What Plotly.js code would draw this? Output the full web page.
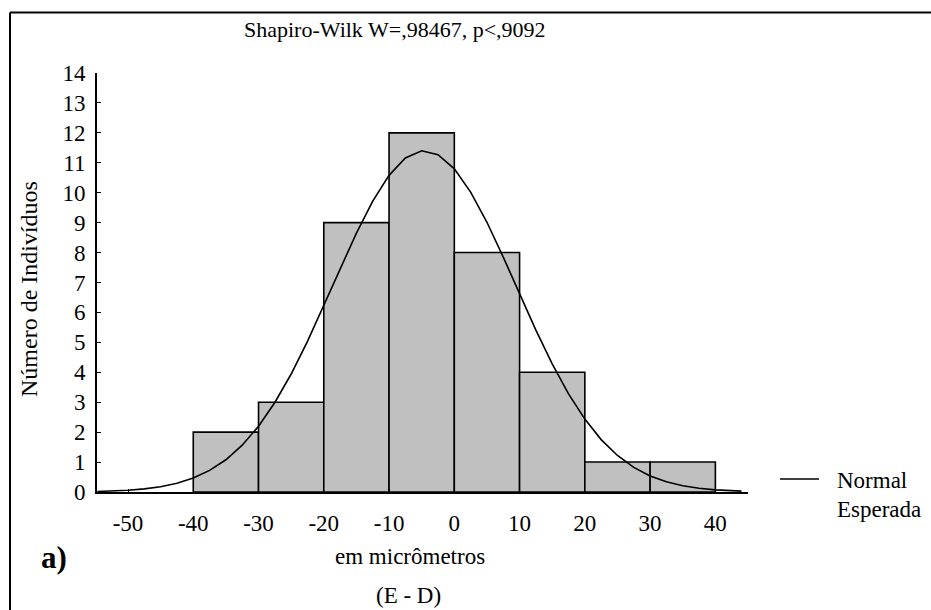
<!DOCTYPE html>
<html>
<head>
<meta charset="utf-8">
<script src="https://cdn.plot.ly/plotly-3.0.1.min.js"></script>
<style>html,body{margin:0;padding:0;background:#fff;}#chart{width:931px;height:610px;}</style>
</head>
<body>
<div id="chart"></div>
<script>
// Histogram bins (centers, width 10) and counts
var binCenters = [-35, -25, -15, -5, 5, 15, 25, 35];
var counts = [2, 3, 9, 12, 8, 4, 1, 1];

// Expected normal curve
var curveX = [-54.7, -52.5, -50, -47.5, -45, -42.5, -40, -37.5, -35, -32.5, -30, -27.5, -25, -22.5, -20, -17.5, -15, -12.5, -10, -7.5, -5, -2.5, 0, 2.5, 5, 7.5, 10, 12.5, 15, 17.5, 20, 22.5, 25, 27.5, 30, 32.5, 35, 37.5, 40, 42.5, 44];
var curveY = [0.018, 0.033, 0.059, 0.104, 0.177, 0.292, 0.466, 0.721, 1.078, 1.565, 2.199, 2.992, 3.942, 5.034, 6.224, 7.457, 8.650, 9.722, 10.58, 11.16, 11.40, 11.27, 10.80, 10.02, 9.012, 7.847, 6.618, 5.407, 4.279, 3.280, 2.435, 1.751, 1.220, 0.823, 0.538, 0.341, 0.209, 0.124, 0.071, 0.040, 0.028];

var xTicks = [-50, -40, -30, -20, -10, 0, 10, 20, 30, 40];
var yTicks = [0, 1, 2, 3, 4, 5, 6, 7, 8, 9, 10, 11, 12, 13, 14];

var titleText = 'Shapiro-Wilk W=,98467, p<,9092';
var yTitle = 'Número de Indivíduos';
var xTitle1 = 'em micrômetros';
var xTitle2 = '(E - D)';
var legendText1 = 'Normal';
var legendText2 = 'Esperada';
var panelLabel = 'a)';

var FONT = '"Liberation Serif", "Times New Roman", Times, serif';

// pixel -> paper helpers (plot area: x 97..748, y 73..492)
var L = 97, R = 748, T = 73, B = 492;
function px(x) { return (x - L) / (R - L); }
function py(y) { return (B - y) / (B - T); }

var traces = [
  {
    type: 'bar',
    x: binCenters,
    y: counts,
    width: 10,
    marker: { color: '#c0c0c0', line: { color: '#000', width: 1.6 } },
    showlegend: false,
    hoverinfo: 'x+y'
  },
  {
    type: 'scatter',
    mode: 'lines',
    x: curveX,
    y: curveY,
    line: { color: '#000', width: 1.6 },
    showlegend: false
  }
];

var layout = {
  width: 931,
  height: 610,
  margin: { l: L, r: 931 - R, t: T, b: 610 - B, pad: 0 },
  paper_bgcolor: '#fff',
  plot_bgcolor: '#fff',
  font: { family: FONT, size: 23, color: '#000' },
  bargap: 0,
  xaxis: {
    range: [-54.75, 45.0],
    tickvals: xTicks,
    ticktext: xTicks.map(String),
    ticks: 'inside',
    ticklen: 3,
    tickwidth: 1,
    tickcolor: '#000',
    showgrid: false,
    zeroline: false,
    showline: true,
    linecolor: '#000',
    linewidth: 2,
    ticklabelstandoff: 9,
    tickfont: { family: FONT, size: 23, color: '#000' },
    fixedrange: true
  },
  yaxis: {
    range: [0, 14],
    tickvals: yTicks,
    ticktext: yTicks.map(String),
    ticks: 'inside',
    ticklen: 4,
    tickwidth: 1,
    tickcolor: '#000',
    showgrid: false,
    zeroline: false,
    showline: true,
    linecolor: '#000',
    linewidth: 2,
    ticklabelstandoff: 5,
    tickfont: { family: FONT, size: 23, color: '#000' },
    fixedrange: true
  },
  shapes: [
    // outer frame (left and top edges visible)
    { type: 'line', xref: 'paper', yref: 'paper', x0: px(10), x1: px(940), y0: py(12.5), y1: py(12.5), line: { color: '#000', width: 2 } },
    { type: 'line', xref: 'paper', yref: 'paper', x0: px(10), x1: px(10), y0: py(12.5), y1: py(620), line: { color: '#000', width: 2 } },
    // legend line sample
    { type: 'line', xref: 'paper', yref: 'paper', x0: px(780), x1: px(819), y0: py(479), y1: py(479), line: { color: '#000', width: 1.6 } }
  ],
  annotations: [
    { text: titleText, xref: 'paper', yref: 'paper', x: px(395), y: py(30), xanchor: 'center', yanchor: 'middle', showarrow: false, font: { family: FONT, size: 22, color: '#000' } },
    { text: yTitle, xref: 'paper', yref: 'paper', x: px(29), y: py(289), xanchor: 'center', yanchor: 'middle', textangle: -90, showarrow: false, font: { family: FONT, size: 24, color: '#000' } },
    { text: xTitle1, xref: 'paper', yref: 'paper', x: px(410), y: py(556), xanchor: 'center', yanchor: 'middle', showarrow: false, font: { family: FONT, size: 23, color: '#000' } },
    { text: xTitle2, xref: 'paper', yref: 'paper', x: px(408), y: py(595), xanchor: 'center', yanchor: 'middle', showarrow: false, font: { family: FONT, size: 23, color: '#000' } },
    { text: '<b>' + panelLabel + '</b>', xref: 'paper', yref: 'paper', x: px(39), y: py(557), xanchor: 'left', yanchor: 'middle', showarrow: false, font: { family: FONT, size: 31, color: '#000' } },
    { text: legendText1, xref: 'paper', yref: 'paper', x: px(835), y: py(480), xanchor: 'left', yanchor: 'middle', showarrow: false, font: { family: FONT, size: 23, color: '#000' } },
    { text: legendText2, xref: 'paper', yref: 'paper', x: px(835), y: py(509), xanchor: 'left', yanchor: 'middle', showarrow: false, font: { family: FONT, size: 23, color: '#000' } }
  ]
};

Plotly.newPlot('chart', traces, layout, { displayModeBar: false, staticPlot: true });
</script>
</body>
</html>
